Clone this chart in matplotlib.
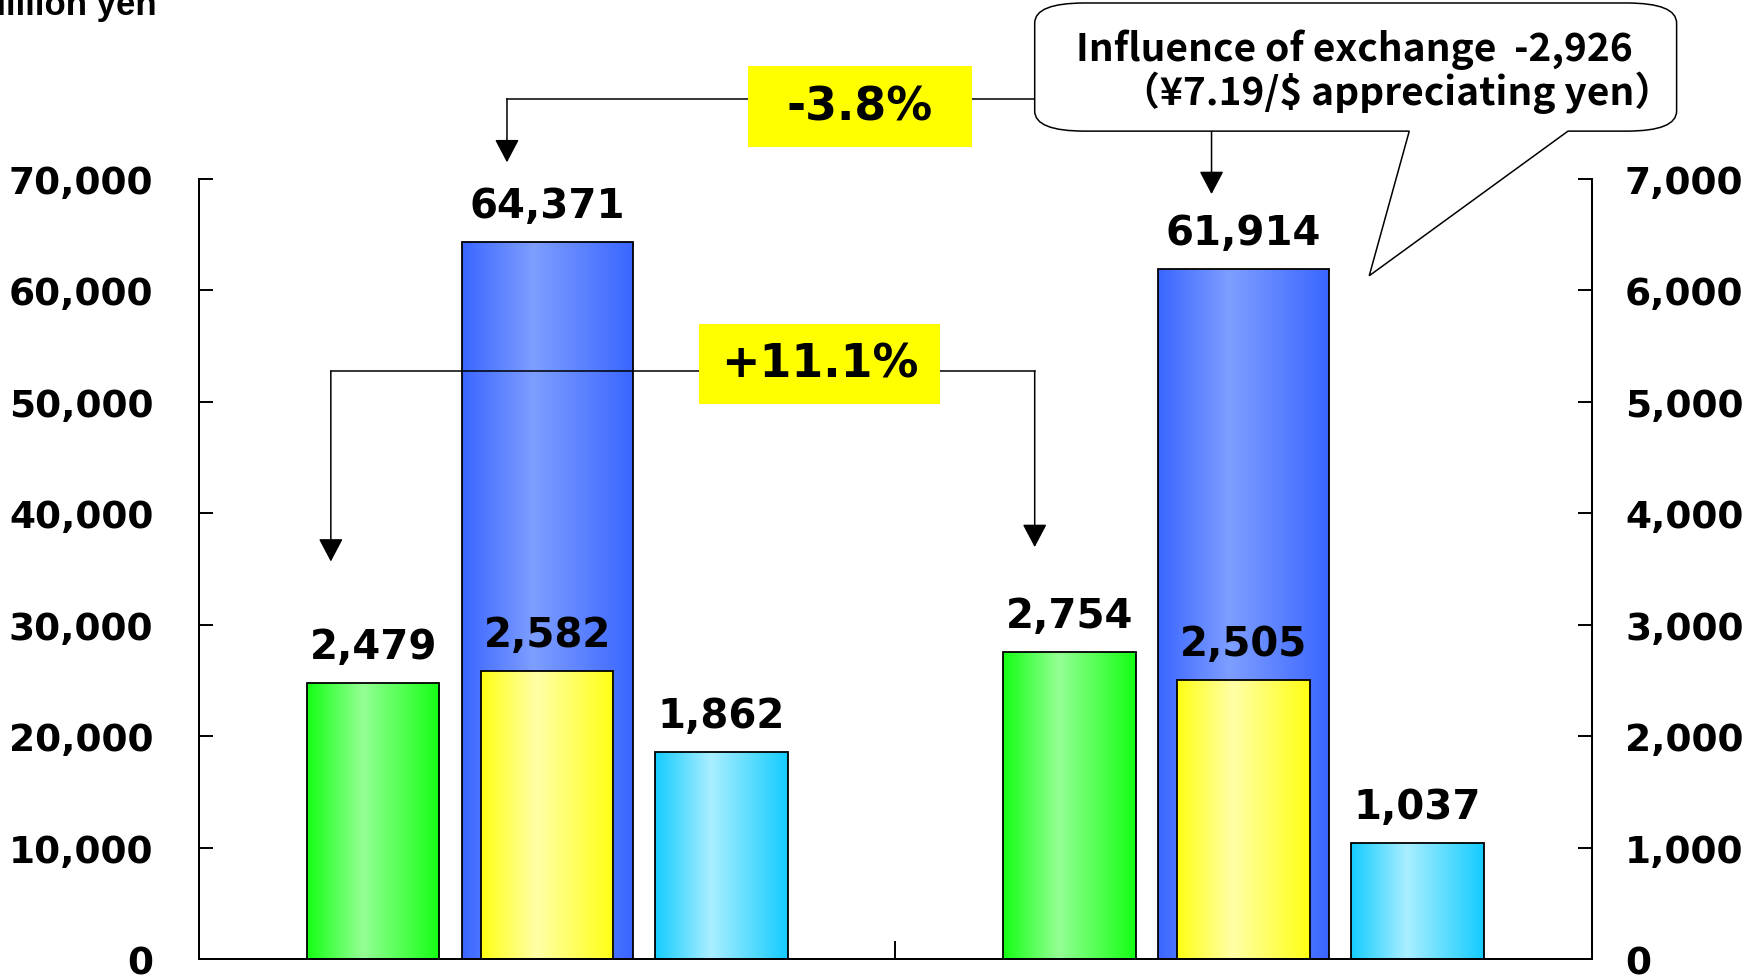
import numpy as np
import matplotlib
matplotlib.use('Agg')
import matplotlib.pyplot as plt
from matplotlib.colors import LinearSegmentedColormap
from matplotlib.path import Path
from matplotlib.patches import PathPatch, Rectangle

# values
periods = ['Previous year', 'Current year']
net_sales = [64371, 61914]          # left axis (million yen)
operating_income = [2479, 2754]     # right axis
ordinary_income = [2582, 2505]      # right axis
net_income = [1862, 1037]           # right axis
left_ticks = [0, 10000, 20000, 30000, 40000, 50000, 60000, 70000]
right_ticks = [0, 1000, 2000, 3000, 4000, 5000, 6000, 7000]
sales_change = '-3.8%'
op_change = '+11.1%'
fx_note = ['Influence of exchange  -2,926', '（¥7.19/$ appreciating yen）']

plt.rcParams['font.family'] = ['DejaVu Sans']

fig = plt.figure(figsize=(17.57, 9.79), dpi=100)
ax1 = fig.add_axes([0.1134, 0.0194, 0.7925, 0.7967])
ax2 = ax1.twinx()

x = np.arange(len(periods))


def shade(ax, bars, edge, light):
    # horizontal gradient inside each bar, clipped to the bar outline
    cmap = LinearSegmentedColormap.from_list('g', [(0, edge), (0.42, light), (1, edge)])
    grad = np.linspace(0, 1, 256).reshape(1, -1)
    for b in bars:
        x0, y0 = b.get_xy()
        im = ax.imshow(grad, cmap=cmap, aspect='auto', interpolation='bilinear',
                       extent=(x0, x0 + b.get_width(), y0, y0 + b.get_height()), zorder=1)
        im.set_clip_path(b)
        b.set_facecolor('none')
        b.set_zorder(2)


def value_labels(ax, bars, vals):
    for b, v in zip(bars, vals):
        ax.annotate(f'{v:,}', xy=(b.get_x() + b.get_width() / 2, b.get_height()),
                    xytext=(0, 18), textcoords='offset points', ha='center', va='baseline',
                    fontsize=29, fontweight='bold', zorder=3)


sales_bars = ax1.bar(x, net_sales, width=0.245, edgecolor='black', linewidth=1.3)
shade(ax1, sales_bars, '#3a66ff', '#7e9eff')
value_labels(ax1, sales_bars, net_sales)

op_bars = ax2.bar(x - 0.25, operating_income, width=0.19, edgecolor='black', linewidth=1.3)
ord_bars = ax2.bar(x, ordinary_income, width=0.19, edgecolor='black', linewidth=1.3)
net_bars = ax2.bar(x + 0.25, net_income, width=0.19, edgecolor='black', linewidth=1.3)
shade(ax2, op_bars, '#14ff14', '#94ff94')
shade(ax2, ord_bars, '#ffff14', '#ffffa8')
shade(ax2, net_bars, '#14ccff', '#aaeeff')
value_labels(ax2, op_bars, operating_income)
value_labels(ax2, ord_bars, ordinary_income)
value_labels(ax2, net_bars, net_income)

ax1.set_xlim(-0.5, 1.5)
ax1.set_ylim(0, 70000)
ax2.set_ylim(0, 7000)
ax1.set_xticks([0.5], labels=[''])
ax1.tick_params(axis='x', direction='in', length=13, width=1.4)
ax1.set_yticks(left_ticks, labels=[f'{t:,}' for t in left_ticks], fontweight='bold')
ax2.set_yticks(right_ticks, labels=[f'{t:,}' for t in right_ticks], fontweight='bold')
ax1.tick_params(axis='y', direction='in', length=10, width=1.4, pad=33, labelsize=27)
ax2.tick_params(axis='y', direction='in', length=10, width=1.4, pad=24, labelsize=27)
for ax in (ax1, ax2):
    ax.spines['top'].set_visible(False)
    for s in ax.spines.values():
        s.set_linewidth(1.4)

fig.text(157 / 1757, 1 - 15 / 979, 'Million yen', ha='right', va='baseline',
         fontsize=25, fontweight='bold', family='Liberation Sans')

# arrows and change boxes (positions in left-axis data units)
arrow_kw = dict(arrowstyle='-|>,head_length=14.4,head_width=7.6', mutation_scale=1,
                shrinkA=0, shrinkB=0, lw=1.1, color='black')


def drop_arrow(xa, y_from, y_to):
    ax1.annotate('', xy=(xa, y_to), xytext=(xa, y_from), arrowprops=arrow_kw,
                 annotation_clip=False, zorder=4)


def change_box(cx, cy, w, h, label):
    ax1.add_patch(Rectangle((cx - w / 2, cy - h / 2), w, h, facecolor='#ffff00',
                            edgecolor='none', clip_on=False, zorder=5))
    ax1.text(cx, cy, label, ha='center', va='center', fontsize=33, fontweight='bold',
             zorder=6, clip_on=False)


# sales: -3.8%
ax1.plot([-0.058, 0.70], [77200, 77200], color='black', lw=1.1, clip_on=False, zorder=4)
drop_arrow(-0.058, 77200, 71500)
change_box(0.449, 76500, 0.323, 7330, sales_change)

# operating income: +11.1%
ax1.plot([-0.311, 0.70], [52770, 52770], color='black', lw=1.1, clip_on=False, zorder=4)
drop_arrow(-0.311, 52770, 35670)
drop_arrow(0.70, 52770, 36970)
change_box(0.391, 53400, 0.345, 7135, op_change)

# exchange-rate callout
bx0, bx1, by0, by1 = 0.70, 1.622, 74300, 85800
rx, ry = 0.072, 1800
verts = [(bx0 + rx, by0), (1.238, by0), (1.1805, 61320), (1.466, by0), (bx1 - rx, by0),
         (bx1, by0), (bx1, by0 + ry), (bx1, by1 - ry),
         (bx1, by1), (bx1 - rx, by1), (bx0 + rx, by1),
         (bx0, by1), (bx0, by1 - ry), (bx0, by0 + ry),
         (bx0, by0), (bx0 + rx, by0), (bx0 + rx, by0)]
codes = [Path.MOVETO, Path.LINETO, Path.LINETO, Path.LINETO, Path.LINETO,
         Path.CURVE3, Path.CURVE3, Path.LINETO,
         Path.CURVE3, Path.CURVE3, Path.LINETO,
         Path.CURVE3, Path.CURVE3, Path.LINETO,
         Path.CURVE3, Path.CURVE3, Path.CLOSEPOLY]
ax1.add_patch(PathPatch(Path(verts, codes), facecolor='white', edgecolor='black',
                        lw=1.1, clip_on=False, zorder=5))
drop_arrow(0.954, by0, 68650)
cjk = ['Noto Sans CJK JP', 'DejaVu Sans']
ax1.text(0.7587, 80706, fx_note[0], ha='left', va='baseline', fontsize=28,
         fontweight='bold', family=cjk, zorder=6, parse_math=False)
ax1.text(0.8234, 76700, fx_note[1], ha='left', va='baseline', fontsize=28,
         fontweight='bold', family=cjk, zorder=6, parse_math=False)

fig.savefig('out.png', dpi=100)
